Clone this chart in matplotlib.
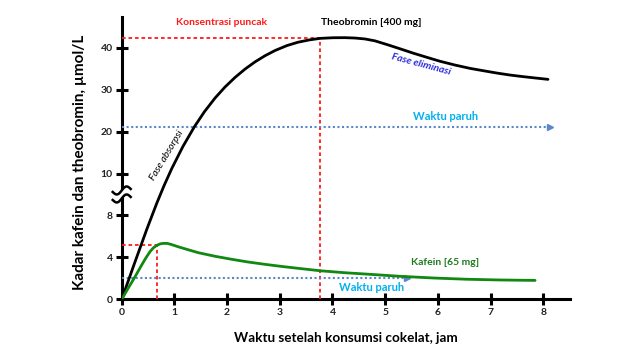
import numpy as np
import matplotlib
matplotlib.use("Agg")
import matplotlib.pyplot as plt
from matplotlib.lines import Line2D
from matplotlib.patches import Polygon
from matplotlib.transforms import IdentityTransform

plt.rcParams['font.family'] = ['Lato', 'DejaVu Sans']

# ---- data ----
theo_x = [0, 0.120, 0.243, 0.357, 0.474, 0.664, 0.803, 0.949, 1.163, 1.378, 1.571, 1.770, 1.960,
          2.150, 2.339, 2.529, 2.719, 2.909, 3.137, 3.345, 3.554, 3.763, 4.010, 4.237, 4.427,
          4.617, 4.806, 5.034, 5.28, 5.527, 5.793, 6.04, 6.324, 6.609, 6.856, 7.12, 7.368,
          7.615, 7.862, 8.09]
theo_y = [0, 1.69, 3.43, 5.01, 6.64, 8.57, 9.42, 11.18, 16.49, 21.14, 24.76, 27.98, 30.62,
          32.90, 34.88, 36.60, 38.07, 39.31, 40.50, 41.29, 41.83, 42.21, 42.36, 42.38, 42.29,
          42.07, 41.62, 40.74, 39.74, 38.71, 37.69, 36.76, 35.86, 35.07, 34.52, 33.95, 33.48,
          33.10, 32.76, 32.45]

caf_x = [0, 0.120, 0.252, 0.376, 0.461, 0.537, 0.603, 0.670, 0.736, 0.803, 0.869, 0.949, 1.068,
         1.201, 1.454, 1.770, 2.087, 2.402, 2.719, 3.036, 3.351, 3.763, 4.237, 4.649, 5.281,
         5.913, 6.546, 7.178, 7.845]
caf_y = [0, 1.03, 2.14, 3.24, 3.96, 4.54, 4.91, 5.15, 5.29, 5.33, 5.32, 5.21, 5.01,
         4.81, 4.44, 4.10, 3.81, 3.55, 3.33, 3.13, 2.95, 2.72, 2.53, 2.40, 2.19,
         2.03, 1.91, 1.84, 1.80]

theo_peak = (3.763, 42.3)
caf_peak = (0.675, 5.17)
theo_half = (8.13, 21.2)   # end x, level
caf_half = (5.41, 2.0)

x_ticks = [0, 1, 2, 3, 4, 5, 6, 7, 8]
y_ticks = [0, 4, 8, 10, 20, 30, 40]


# ---- broken y scale ----
def fwd(y):
    y = np.asarray(y, float)
    return np.where(y <= 8, y * 10.5,
                    np.where(y <= 10, 84 + (y - 8) * 20.85, 125.7 + (y - 10) * 4.2))


def inv(v):
    v = np.asarray(v, float)
    return np.where(v <= 84, v / 10.5,
                    np.where(v <= 125.7, 8 + (v - 84) / 20.85, 10 + (v - 125.7) / 4.2))


fig = plt.figure(figsize=(6.4, 3.6), dpi=100)
ax = fig.add_axes([121.7 / 640, 60.7 / 360, 447.9 / 640, 282.3 / 360])
ax.set_yscale('function', functions=(fwd, inv))
ax.set_xlim(0, 8.5)
ax.set_ylim(0, 47.3)

for s in ['top', 'right']:
    ax.spines[s].set_visible(False)
for s in ['left', 'bottom']:
    ax.spines[s].set_linewidth(2.2)
    ax.spines[s].set_zorder(1)

ax.set_xticks(x_ticks)
ax.set_yticks(y_ticks)
ax.set_yticklabels([str(t) for t in y_ticks])
ax.yaxis.set_minor_locator(matplotlib.ticker.NullLocator())
ax.tick_params(direction='inout', length=9, width=2.2, labelsize=7.5, colors='black')
ax.tick_params(axis='y', pad=2)
ax.tick_params(axis='x', pad=2)
for lab in ax.get_xticklabels() + ax.get_yticklabels():
    lab.set_fontweight('bold')
    lab.set_color('#222222')

# reference lines
red = '#ff1a1a'
dash = (0, (2, 1.6))
ax.plot([0, theo_peak[0]], [theo_peak[1], theo_peak[1]], color=red, lw=1.3, ls=dash, zorder=2)
ax.plot([theo_peak[0], theo_peak[0]], [0, theo_peak[1]], color=red, lw=1.3, ls=dash, zorder=2)
ax.plot([0, caf_peak[0]], [caf_peak[1], caf_peak[1]], color=red, lw=1.3, ls=dash, zorder=2)
ax.plot([caf_peak[0], caf_peak[0]], [0, caf_peak[1]], color=red, lw=1.3, ls=dash, zorder=2)

blue = '#5b87c8'
for end_x, lev in [theo_half, caf_half]:
    ax.plot([0, end_x], [lev, lev], color=blue, lw=1.5, ls=(0, (1, 1.2)), zorder=2)
    ax.plot([end_x], [lev], marker='>', color=blue, ms=4.5, zorder=3, clip_on=False)

# curves
ax.plot(theo_x, theo_y, color='black', lw=2.0, zorder=4, solid_joinstyle='round', solid_capstyle='round')
ax.plot(caf_x, caf_y, color='#118811', lw=2.0, zorder=4, solid_joinstyle='round', solid_capstyle='round')

# texts
ax.text(1.89, 46.1, 'Konsentrasi puncak', color='#ff1a1a', fontsize=7.5, fontweight='bold', ha='center', va='center')
ax.text(4.73, 46.1, 'Theobromin [400 mg]', color='black', fontsize=7.5, fontweight='bold', ha='center', va='center')
ax.text(5.68, 36.1, 'Fase eliminasi', color='#2a2ae0', fontsize=7.5, fontweight='bold', style='italic',
        ha='center', va='center', rotation=-15)
ax.text(6.15, 23.7, 'Waktu paruh', color='#00b0f0', fontsize=8, fontweight='bold', ha='center', va='center')
ax.text(0.85, 14.4, 'Fase absorpsi', color='black', fontsize=7.3, style='italic', ha='center', va='center',
        rotation=59)
ax.text(6.13, 3.55, 'Kafein [65 mg]', color='#1e7b1e', fontsize=7.5, fontweight='bold', ha='center', va='center')
ax.text(4.75, 1.08, 'Waktu paruh', color='#00b0f0', fontsize=8, fontweight='bold', ha='center', va='center')

fig.text(346 / 640, 1 - 338 / 360, 'Waktu setelah konsumsi cokelat, jam', fontsize=9.7, fontweight='bold',
         ha='center', va='center')
fig.text(80 / 640, 1 - 162 / 360, 'Kadar kafein dan theobromin, µmol/L', fontsize=11, fontweight='bold',
         ha='center', va='center', rotation=90)

# axis break squiggle
fig.canvas.draw()
x0, y0 = ax.transData.transform((0, 9.0))
t = np.linspace(-1, 1, 60)
wx = x0 + 9 * t
wave = 3.2 * np.sin(np.pi * t) + 1.5 * t
top = y0 + 4 + wave
bot = y0 - 4 + wave
poly = Polygon(np.column_stack([np.concatenate([wx, wx[::-1]]), np.concatenate([top, bot[::-1]])]),
               closed=True, facecolor='white', edgecolor='none', transform=IdentityTransform(), zorder=5)
fig.add_artist(poly)
for yy in (top, bot):
    fig.add_artist(Line2D(wx, yy, color='black', lw=1.8, transform=IdentityTransform(), zorder=6))

fig.savefig('out.png', dpi=100)
